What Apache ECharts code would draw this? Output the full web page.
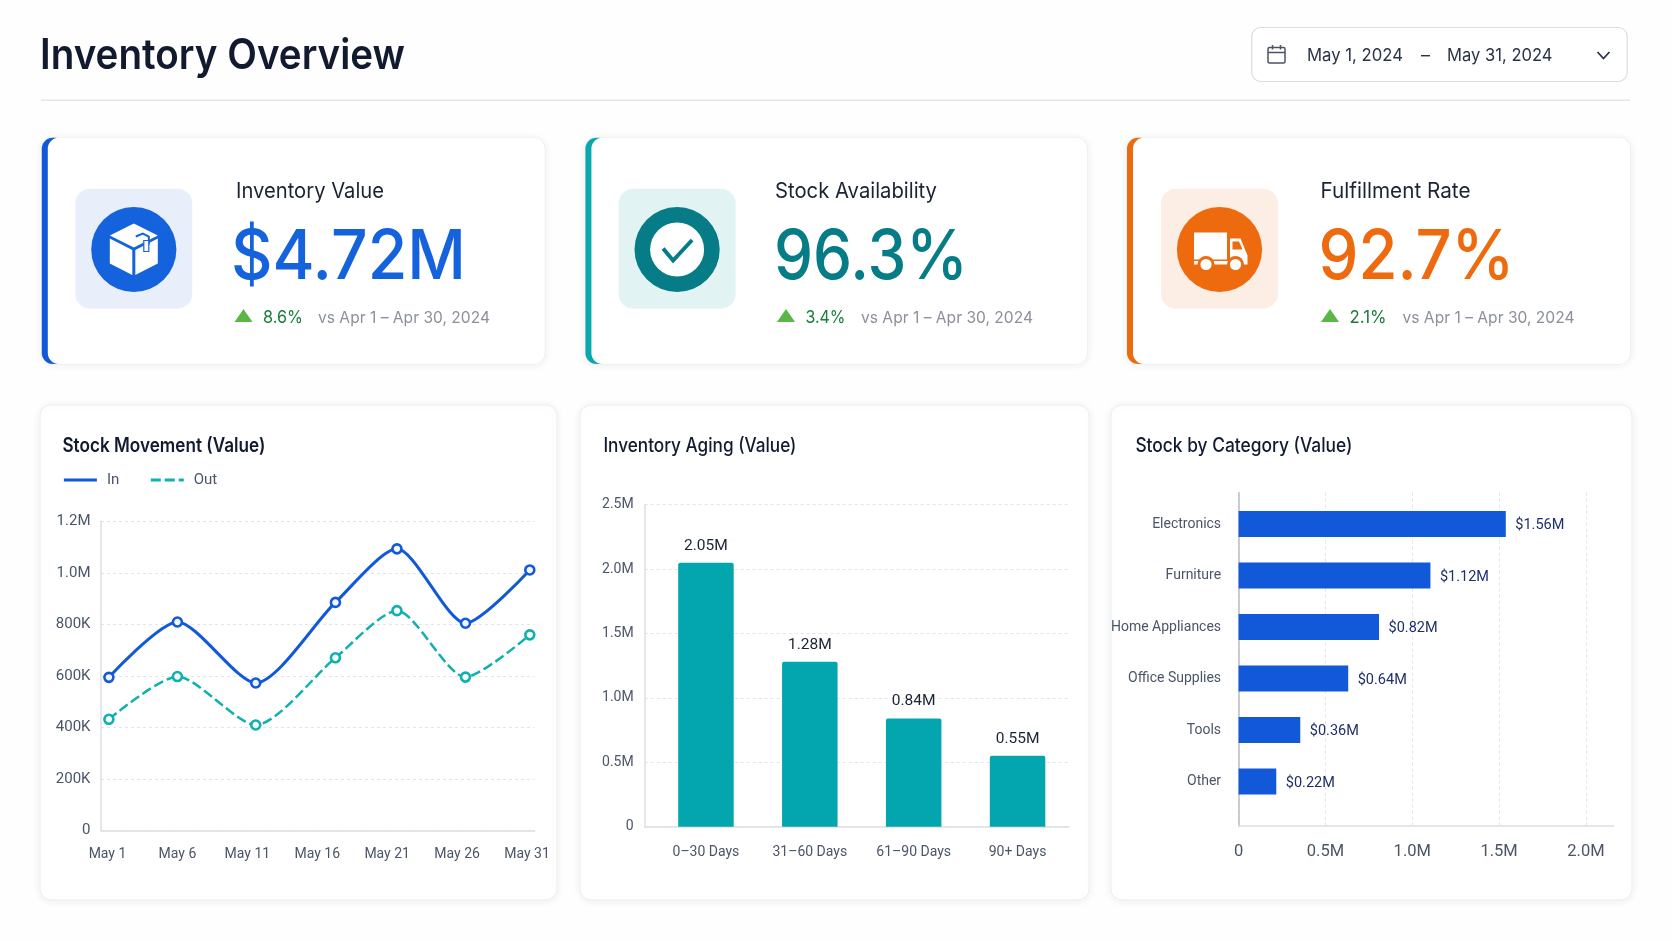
<!DOCTYPE html>
<html>
<head>
<meta charset="utf-8">
<title>Inventory Overview</title>
<style>
  html, body { margin: 0; padding: 0; background: #fefefe; }
  #chart { width: 1672px; height: 941px; }
</style>
<script src="https://cdn.jsdelivr.net/npm/echarts@6/dist/echarts.min.js"></script>
</head>
<body>
<div id="chart"></div>
<script>
const dateFrom = 'May 1, 2024';
const dateTo = 'May 31, 2024';

const kpiNames = ['Inventory Value', 'Stock Availability', 'Fulfillment Rate'];
const kpiValues = ['$4.72M', '96.3%', '92.7%'];
const kpiDeltas = ['8.6%', '3.4%', '2.1%'];
const kpiCompare = 'vs Apr 1 – Apr 30, 2024';

const movementTickDays = [1, 6, 11, 16, 21, 26, 31];
const movementDays = [1.1, 6, 11.6, 17.3, 21.7, 26.6, 31.2]; // points sit off the ticks in the picture
const stockIn = [594000, 809000, 572000, 885000, 1093000, 804000, 1011000];
const stockOut = [431000, 597000, 409000, 670000, 853000, 595000, 759000];

const agingBuckets = ['0–30 Days', '31–60 Days', '61–90 Days', '90+ Days'];
const agingValues = [2.05, 1.28, 0.84, 0.55];

const categories = ['Electronics', 'Furniture', 'Home Appliances', 'Office Supplies', 'Tools', 'Other'];
const categoryValues = [1.56, 1.12, 0.82, 0.64, 0.36, 0.22];
const categoryTicks = [0, 0.5, 1, 1.5, 2];

const FONT = 'Inter';
const AXIS_FONT = 'Roboto';
const BLUE = '#1259d9';
const TEAL = '#03a6ae';
const LINE_TEAL = '#0fb0ae';
const AXIS_TEXT = '#4a5568';
const GRID_LINE = { show: true, lineStyle: { color: '#e2e4e9', type: [3, 3], width: 1 } };
const AXIS_LINE = { show: true, lineStyle: { color: '#dcdfe4', width: 1.5 } };

const measure = document.createElement('canvas').getContext('2d');

// left-aligned text squeezed to the width it has in the picture
function label(str, x, y, size, weight, fill, width) {
  measure.font = `${weight} ${size}px ${FONT}`;
  const scale = width ? width / measure.measureText(str).width : 1;
  return {
    type: 'text', x, y, scaleX: scale, z: 5, silent: true,
    style: { text: str, fontFamily: FONT, fontSize: size, fontWeight: weight, fill, verticalAlign: 'middle' },
  };
}

function card(x, y, w, h, accent) {
  const els = [{
    type: 'rect', z: -3, silent: true,
    shape: { x, y, width: w, height: h, r: 11 },
    style: { fill: '#fff', stroke: '#eceef2', lineWidth: 1, shadowBlur: 8, shadowColor: 'rgba(30,40,70,0.07)', shadowOffsetY: 1 },
  }];
  if (accent) {
    els.push({ type: 'rect', z: -2, silent: true, shape: { x, y, width: 24, height: h, r: 11 }, style: { fill: accent } });
    els.push({ type: 'rect', z: -1, silent: true, shape: { x: x + 6, y, width: w - 6.5, height: h, r: 11 }, style: { fill: '#fff' } });
  }
  return els;
}

function poly(points, fill) {
  return { type: 'polygon', shape: { points }, style: { fill } };
}

function boxIcon(c) {
  return [
    poly([[0, -26], [24, -14], [0, -2], [-24, -14]], '#fff'),
    poly([[-24, -11], [-1.5, 0.5], [-1.5, 25.5], [-24, 14]], '#fff'),
    poly([[1.5, 0.5], [24, -11], [24, 14], [1.5, 25.5]], '#fff'),
    { type: 'polyline', shape: { points: [[2, -13], [9, -16], [15, -13], [15, -5]] }, style: { stroke: c, lineWidth: 2, fill: null } },
    { type: 'rect', shape: { x: 10, y: -9, width: 5, height: 11 }, style: { stroke: c, lineWidth: 1.2, fill: '#fff' } },
  ];
}

function checkIcon(c) {
  return [
    { type: 'circle', shape: { cx: 0, cy: 0, r: 27 }, style: { fill: '#fff' } },
    { type: 'polyline', shape: { points: [[-14, -1], [-4, 11], [15, -9.5]] }, style: { stroke: c, lineWidth: 4, fill: null } },
  ];
}

function truckIcon(c) {
  return [
    { type: 'rect', shape: { x: -25.5, y: -17, width: 33, height: 27 }, style: { fill: '#fff' } },
    poly([[10.5, -11], [21, -11], [28, 6], [28, 15], [10.5, 15]], '#fff'),
    poly([[13, -8], [19.5, -8], [23, 0], [13, 0]], c),
    { type: 'rect', shape: { x: -25.5, y: 11.5, width: 40, height: 3.5 }, style: { fill: '#fff' } },
    { type: 'circle', shape: { cx: -13.5, cy: 15, r: 8.5 }, style: { fill: c } },
    { type: 'circle', shape: { cx: 16, cy: 15, r: 8.5 }, style: { fill: c } },
    { type: 'circle', shape: { cx: -13.5, cy: 15, r: 5.6 }, style: { fill: '#fff' } },
    { type: 'circle', shape: { cx: 16, cy: 15, r: 5.6 }, style: { fill: '#fff' } },
  ];
}

function kpi(i, left, right, accent, color, tileX, tile, icon, textX, valueX, deltaX, widths) {
  const cx = tileX + 58.5;
  const els = card(left, 137.7, right - left, 226.3, accent);
  els.push({ type: 'rect', z: 1, silent: true, shape: { x: tileX, y: 188.7, width: 117, height: 120, r: 15 }, style: { fill: tile } });
  els.push({ type: 'circle', z: 1, silent: true, shape: { cx, cy: 249.5, r: 42.6 }, style: { fill: color } });
  els.push({ type: 'group', x: cx, y: 249.5, z: 2, silent: true, children: icon(color).map(e => ({ ...e, z: 2 })) });
  els.push(label(kpiNames[i], textX, 192, 21.5, 400, '#1c2433', widths[0]));
  els.push(label(kpiValues[i], valueX, 258, 69, 500, color, widths[1]));
  els.push({ type: 'polygon', z: 2, silent: true, shape: { points: [[deltaX + 9, 309], [deltaX + 18, 322], [deltaX, 322]] }, style: { fill: '#5cb547' } });
  els.push(label(kpiDeltas[i], deltaX + 28.5, 317.5, 17.5, 400, '#1a7d3c', widths[2]));
  els.push(label(kpiCompare, textX + widths[3], 318, 16.5, 400, '#8b909a', 172));
  return els;
}

const graphics = [
  label('Inventory Overview', 40, 56, 42, 600, '#111a2e', 365),
  { type: 'rect', z: 0, silent: true, shape: { x: 41, y: 99.5, width: 1589, height: 1.5 }, style: { fill: '#e3e5e9' } },

  // date picker
  { type: 'rect', z: 0, silent: true, shape: { x: 1251.7, y: 27.5, width: 375.5, height: 54, r: 9 }, style: { fill: '#fff', stroke: '#d9dce3', lineWidth: 1.2 } },
  { type: 'rect', z: 2, silent: true, shape: { x: 1268, y: 47.5, width: 17, height: 15.5, r: 1.5 }, style: { fill: null, stroke: '#4b5366', lineWidth: 1.5 } },
  { type: 'line', z: 2, silent: true, shape: { x1: 1268, y1: 52.5, x2: 1285, y2: 52.5 }, style: { stroke: '#4b5366', lineWidth: 1.5 } },
  { type: 'line', z: 2, silent: true, shape: { x1: 1272.5, y1: 45, x2: 1272.5, y2: 49.5 }, style: { stroke: '#4b5366', lineWidth: 1.5 } },
  { type: 'line', z: 2, silent: true, shape: { x1: 1280.5, y1: 45, x2: 1280.5, y2: 49.5 }, style: { stroke: '#4b5366', lineWidth: 1.5 } },
  label(dateFrom, 1307, 56, 17.5, 400, '#2b3347', 96),
  label('–', 1421, 56, 17.5, 400, '#2b3347', 9),
  label(dateTo, 1447, 56, 17.5, 400, '#2b3347', 105.5),
  { type: 'polyline', z: 2, silent: true, shape: { points: [[1597.5, 52], [1603.5, 58.5], [1609.5, 52]] }, style: { fill: null, stroke: '#2b3347', lineWidth: 1.8 } },

  ...kpi(0, 41.8, 545, BLUE, '#1463dc', 75.3, '#e8effb', boxIcon, 236, 231, 234.5, [148, 235, 40, 82]),
  ...kpi(1, 585.4, 1087.3, '#0aa8ad', '#067d86', 618.6, '#e1f4f3', checkIcon, 775, 774, 777, [162, 194, 40, 86]),
  ...kpi(2, 1127, 1630.5, '#ee6a0f', '#ee6a0f', 1161, '#fdeee5', truckIcon, 1320.5, 1318.5, 1321, [150, 196, 37, 82]),

  ...card(40, 405, 517, 495),
  ...card(580, 405, 509, 495),
  ...card(1111, 405, 521, 495),
  label('Stock Movement (Value)', 62.4, 446, 19.5, 600, '#111a2e', 203),
  label('Inventory Aging (Value)', 603.4, 446, 19.5, 500, '#111a2e', 193),
  label('Stock by Category (Value)', 1135.4, 446, 19.5, 500, '#111a2e', 217),
];

function plainGrid(left, top, width, height) {
  return { left, top, width, height, outerBoundsMode: 'none' };
}

const hidden = { show: false };
const axisFont = { fontFamily: AXIS_FONT, color: AXIS_TEXT };

const option = {
  animation: false,
  backgroundColor: '#fefefe',
  graphic: { elements: graphics },
  legend: {
    left: 62.4, top: 472.5, padding: 0, itemWidth: 33, itemHeight: 14, itemGap: 30,
    data: ['In', 'Out'], itemStyle: { opacity: 0 }, lineStyle: { width: 3 },
    textStyle: { fontFamily: AXIS_FONT, fontSize: 15, color: AXIS_TEXT, padding: [0, 0, 0, 5] },
  },
  grid: [
    plainGrid(101, 521.3, 433.5, 309),      // stock movement
    plainGrid(644.7, 504.7, 424.6, 322),    // aging frame: axis lines and grid lines
    plainGrid(654, 504.7, 415.5, 322),      // aging bars
    plainGrid(1238.6, 492.7, 375.1, 333.3), // category frame
    plainGrid(1238.6, 498.25, 375.1, 309),  // category bars
  ],
  xAxis: [
    {
      gridIndex: 0, type: 'value', min: 0.536, max: 31.536, splitLine: hidden, axisLine: AXIS_LINE,
      axisTick: hidden,
      axisLabel: { ...axisFont, fontSize: 14, margin: 17, customValues: movementTickDays, formatter: v => `May ${v}` },
    },
    { gridIndex: 1, type: 'value', min: 0, max: 1, splitLine: hidden, axisLine: AXIS_LINE, axisTick: hidden, axisLabel: hidden },
    {
      gridIndex: 2, type: 'category', data: agingBuckets, axisLine: hidden, axisTick: hidden,
      axisLabel: { ...axisFont, fontSize: 14, margin: 19 },
    },
    {
      gridIndex: 3, type: 'value', min: 0, max: 2.16, splitLine: GRID_LINE, axisLine: AXIS_LINE,
      axisTick: { show: false, customValues: categoryTicks },
      axisLabel: { ...axisFont, fontSize: 16.5, margin: 17, customValues: categoryTicks, formatter: v => (v ? v.toFixed(1) + 'M' : '0') },
    },
    { gridIndex: 4, type: 'value', min: 0, max: 2.19, show: false },
  ],
  yAxis: [
    {
      gridIndex: 0, type: 'value', min: 0, max: 1200000, interval: 200000, splitLine: GRID_LINE, axisLine: AXIS_LINE,
      axisTick: hidden,
      axisLabel: {
        ...axisFont, fontSize: 15, margin: 10.5, padding: [2, 0, 0, 0],
        formatter: v => (v >= 1000000 ? (v / 1000000).toFixed(1) + 'M' : v ? v / 1000 + 'K' : '0'),
      },
    },
    {
      gridIndex: 1, type: 'value', min: 0, max: 2.5, interval: 0.5, splitLine: GRID_LINE, axisLine: AXIS_LINE,
      axisTick: hidden,
      axisLabel: { ...axisFont, fontSize: 14, margin: 11, formatter: v => (v ? v.toFixed(1) + 'M' : '0') },
    },
    { gridIndex: 2, type: 'value', min: 0, max: 2.5, show: false },
    {
      gridIndex: 3, type: 'value', min: 0, max: 1, splitLine: hidden, axisTick: hidden, axisLabel: hidden,
      axisLine: { show: true, lineStyle: { color: '#b9bdc5', width: 1.5 } },
    },
    {
      gridIndex: 4, type: 'category', data: categories, inverse: true, axisLine: hidden, axisTick: hidden,
      axisLabel: { ...axisFont, fontSize: 14, margin: 17.5, padding: [2, 0, 0, 0] },
    },
  ],
  series: [
    {
      name: 'In', type: 'line', xAxisIndex: 0, yAxisIndex: 0, smooth: 0.25, symbol: 'circle', symbolSize: 9,
      data: movementDays.map((d, i) => [d, stockIn[i]]),
      lineStyle: { color: BLUE, width: 3 },
      itemStyle: { color: '#f4f7ff', borderColor: BLUE, borderWidth: 2.6 },
    },
    {
      name: 'Out', type: 'line', xAxisIndex: 0, yAxisIndex: 0, smooth: 0.25, symbol: 'circle', symbolSize: 9,
      data: movementDays.map((d, i) => [d, stockOut[i]]),
      lineStyle: { color: LINE_TEAL, width: 2.5, type: [10, 4] },
      itemStyle: { color: '#f4ffff', borderColor: LINE_TEAL, borderWidth: 2.6 },
    },
    {
      type: 'bar', xAxisIndex: 2, yAxisIndex: 2, barWidth: 55.5, data: agingValues,
      itemStyle: { color: TEAL, borderRadius: [2, 2, 0, 0] },
      label: {
        show: true, position: 'top', distance: 9, fontFamily: AXIS_FONT, fontSize: 15.5, color: '#1b2436',
        formatter: p => p.value.toFixed(2) + 'M',
      },
    },
    {
      type: 'bar', xAxisIndex: 4, yAxisIndex: 4, barWidth: 26, data: categoryValues,
      itemStyle: { color: BLUE },
      label: {
        show: true, position: 'right', distance: 9.5, offset: [0, 1.5], fontFamily: AXIS_FONT, fontSize: 14.5, color: '#1e2f6b',
        formatter: p => '$' + p.value.toFixed(2) + 'M',
      },
    },
  ],
};

const chart = echarts.init(document.getElementById('chart'));
chart.setOption(option);
</script>
</body>
</html>
